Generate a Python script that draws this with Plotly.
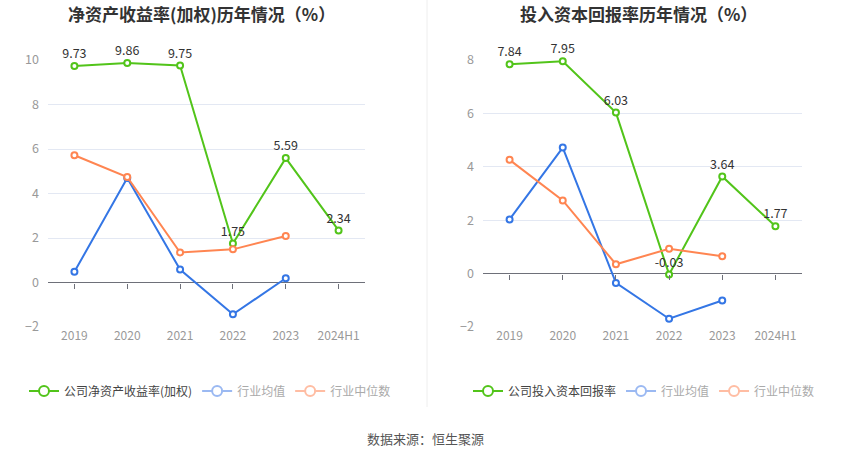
import plotly.graph_objects as go

years = ['2019', '2020', '2021', '2022', '2023', '2024H1']

# 净资产收益率(加权)
roe_company = [9.73, 9.86, 9.75, 1.75, 5.59, 2.34]
roe_avg = [0.48, 4.70, 0.58, -1.43, 0.19]
roe_median = [5.72, 4.74, 1.35, 1.49, 2.09]

# 投入资本回报率
roic_company = [7.84, 7.95, 6.03, -0.03, 3.64, 1.77]
roic_avg = [2.03, 4.72, -0.35, -1.69, -1.01]
roic_median = [4.26, 2.74, 0.35, 0.93, 0.65]

GREEN = '#52c41a'
BLUE = '#3476e5'
ORANGE = '#ff8551'
FONT = 'Noto Sans CJK SC'

W, H = 850, 459
ytop, ybot = 60, 327
dom_y = [1 - ybot / H, 1 - ytop / H]
dom_left = [48 / W, 365 / W]
dom_right = [483 / W, 802 / W]

fig = go.Figure()


def add_panel(xa, ya, company, avg, median, cname, legend):
    fig.add_trace(go.Scatter(
        x=years, y=company, xaxis=xa, yaxis=ya, mode='lines+markers+text',
        text=[f'{v:.2f}' for v in company], textposition='top center',
        textfont=dict(size=12.5, color='#333', family=FONT),
        line=dict(color=GREEN, width=2),
        marker=dict(symbol='circle', size=6, color='white', line=dict(color=GREEN, width=2)),
        showlegend=False, cliponaxis=False))
    fig.add_trace(go.Scatter(
        x=years[:len(avg)], y=avg, xaxis=xa, yaxis=ya, mode='lines+markers',
        line=dict(color=BLUE, width=2),
        marker=dict(symbol='circle', size=6, color='white', line=dict(color=BLUE, width=2)),
        showlegend=False, cliponaxis=False))
    fig.add_trace(go.Scatter(
        x=years[:len(median)], y=median, xaxis=xa, yaxis=ya, mode='lines+markers',
        line=dict(color=ORANGE, width=2),
        marker=dict(symbol='circle', size=6, color='white', line=dict(color=ORANGE, width=2)),
        showlegend=False, cliponaxis=False))
    # legend entries
    for name, col, tcol in [(cname, GREEN, '#444'), ('行业均值', '#9bb9f2', '#aaa'),
                            ('行业中位数', '#ffbda3', '#aaa')]:
        fig.add_trace(go.Scatter(
            x=[None], y=[None], xaxis=xa, yaxis=ya, mode='lines+markers',
            name=f'<span style="color:{tcol}">{name}</span>',
            line=dict(color=col, width=2),
            marker=dict(symbol='circle', size=10, color='white', line=dict(color=col, width=2)),
            legend=legend))


add_panel('x', 'y', roe_company, roe_avg, roe_median, '公司净资产收益率(加权)', 'legend')
add_panel('x2', 'y2', roic_company, roic_avg, roic_median, '公司投入资本回报率', 'legend2')

axis_x = dict(type='category', showgrid=False, showline=False, ticks='', range=[-0.5, 5.5],
              tickfont=dict(size=12, color='#999', family=FONT), fixedrange=True,
              automargin=False)
axis_y = dict(showgrid=True, gridcolor='#e3e8f3', gridwidth=1, zeroline=True,
              zerolinecolor='#6e7079', zerolinewidth=1, dtick=2, ticks='',
              tickfont=dict(size=12.5, color='#999', family=FONT), ticklabelstandoff=8,
              automargin=False)


def zero_pos(rng):
    return dom_y[0] + (0 - rng[0]) / (rng[1] - rng[0]) * (dom_y[1] - dom_y[0])


tick_axis = dict(type='linear', range=[-0.5, 5.5], tickvals=list(range(6)),
                 showticklabels=False, ticks='outside', ticklen=5, tickcolor='#6e7079',
                 showgrid=False, zeroline=False, showline=False, anchor='free',
                 automargin=False)

fig.update_layout(
    width=W, height=H, margin=dict(l=0, r=0, t=0, b=0, autoexpand=False),
    paper_bgcolor='white', plot_bgcolor='white',
    font=dict(family=FONT, color='#333'),
    xaxis=dict(axis_x, domain=dom_left, anchor='y'),
    yaxis=dict(axis_y, domain=dom_y, range=[-2, 10], anchor='x'),
    xaxis2=dict(axis_x, domain=dom_right, anchor='y2'),
    yaxis2=dict(axis_y, domain=dom_y, range=[-2, 8], anchor='x2'),
    xaxis3=dict(tick_axis, domain=dom_left, overlaying='x', position=zero_pos([-2, 10])),
    xaxis4=dict(tick_axis, domain=dom_right, overlaying='x2', position=zero_pos([-2, 8])),
    legend=dict(orientation='h', x=210 / W, y=1 - 391 / H, xanchor='center', yanchor='middle',
                font=dict(size=12, family=FONT), bgcolor='rgba(0,0,0,0)', itemwidth=30),
    legend2=dict(orientation='h', x=644 / W, y=1 - 391 / H, xanchor='center', yanchor='middle',
                 font=dict(size=12, family=FONT), bgcolor='rgba(0,0,0,0)', itemwidth=30),
    annotations=[
        dict(text='<b>净资产收益率(加权)历年情况（%）</b>', x=201 / W, y=1 - 14 / H,
             xref='paper', yref='paper', showarrow=False, xanchor='center', yanchor='middle',
             font=dict(size=17, color='#333', family=FONT)),
        dict(text='<b>投入资本回报率历年情况（%）</b>', x=638 / W, y=1 - 14 / H,
             xref='paper', yref='paper', showarrow=False, xanchor='center', yanchor='middle',
             font=dict(size=17, color='#333', family=FONT)),
        dict(text='数据来源：恒生聚源', x=425 / W, y=1 - 438 / H,
             xref='paper', yref='paper', showarrow=False, xanchor='center', yanchor='middle',
             font=dict(size=13, color='#555', family=FONT)),
    ],
    shapes=[dict(type='line', xref='paper', yref='paper', x0=427 / W, x1=427 / W,
                 y0=1 - 407 / H, y1=1, line=dict(color='#eeeeee', width=1))],
)

# dummy traces so the overlay tick axes are drawn
fig.add_trace(go.Scatter(x=[None], y=[None], xaxis='x3', yaxis='y', showlegend=False))
fig.add_trace(go.Scatter(x=[None], y=[None], xaxis='x4', yaxis='y2', showlegend=False))

fig.write_html('out.html', config={'displayModeBar': False},
               post_script="document.body.style.margin='0';document.body.style.overflow='hidden';")
